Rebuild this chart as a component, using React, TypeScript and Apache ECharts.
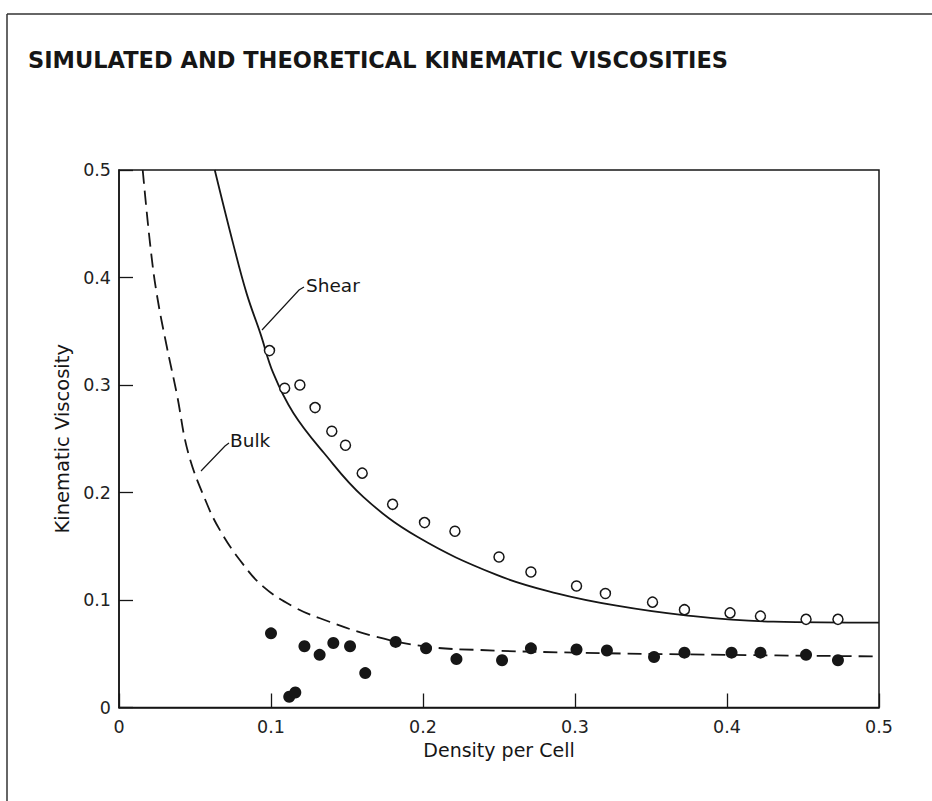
import React, { useEffect, useRef } from "react";
import * as echarts from "echarts";

// ---- data ----
const TITLE = "SIMULATED AND THEORETICAL KINEMATIC VISCOSITIES";
const X_NAME = "Density per Cell";
const Y_NAME = "Kinematic Viscosity";

// simulated shear viscosity (open circles)
const shearSimDensity = [0.099, 0.109, 0.119, 0.129, 0.140, 0.149, 0.160, 0.180, 0.201, 0.221, 0.250, 0.271, 0.301, 0.320, 0.351, 0.372, 0.402, 0.422, 0.452, 0.473];
const shearSimVisc = [0.332, 0.297, 0.300, 0.279, 0.257, 0.244, 0.218, 0.189, 0.172, 0.164, 0.140, 0.126, 0.113, 0.106, 0.098, 0.091, 0.088, 0.085, 0.082, 0.082];

// simulated bulk viscosity (filled circles)
const bulkSimDensity = [0.100, 0.112, 0.116, 0.122, 0.132, 0.141, 0.152, 0.162, 0.182, 0.202, 0.222, 0.252, 0.271, 0.301, 0.321, 0.352, 0.372, 0.403, 0.422, 0.452, 0.473];
const bulkSimVisc = [0.069, 0.010, 0.014, 0.057, 0.049, 0.060, 0.057, 0.032, 0.061, 0.055, 0.045, 0.044, 0.055, 0.054, 0.053, 0.047, 0.051, 0.051, 0.051, 0.049, 0.044];

// theoretical shear curve (solid)
const shearTheoryDensity = [0.063, 0.075, 0.084, 0.093, 0.1015, 0.1147, 0.135, 0.1607, 0.196, 0.2485, 0.288, 0.3274, 0.3713, 0.4305, 0.5];
const shearTheoryVisc = [0.500, 0.432, 0.385, 0.348, 0.311, 0.274, 0.2365, 0.196, 0.159, 0.1233, 0.1062, 0.0947, 0.086, 0.0798, 0.0789];

// theoretical bulk curve (dashed)
const bulkTheoryDensity = [0.0156, 0.0204, 0.0248, 0.0314, 0.038, 0.0456, 0.0577, 0.0664, 0.0796, 0.0949, 0.1147, 0.1322, 0.1673, 0.2024, 0.2375, 0.30, 0.40, 0.50];
const bulkTheoryVisc = [0.500, 0.432, 0.385, 0.336, 0.292, 0.2365, 0.190, 0.165, 0.137, 0.1124, 0.0938, 0.083, 0.0665, 0.0566, 0.0535, 0.051, 0.049, 0.0475];

const AXIS_MIN = 0;
const AXIS_MAX = 0.5;
const AXIS_STEP = 0.1;

const zip = (xs: number[], ys: number[]) => xs.map((x, i) => [x, ys[i]]);

const INK = "#161616";
const FONT = "DejaVu Sans";

export default function App() {
  const ref = useRef<HTMLDivElement>(null);

  useEffect(() => {
    if (!ref.current) return;
    const chart = echarts.init(ref.current, undefined, { renderer: "svg" });

    const axisCommon = {
      type: "value" as const,
      min: AXIS_MIN,
      max: AXIS_MAX,
      interval: AXIS_STEP,
      axisLine: { show: true, lineStyle: { color: INK, width: 1.5 } },
      axisTick: { show: true, inside: true, length: 14, lineStyle: { color: INK, width: 1.3 } },
      splitLine: { show: false },
      nameLocation: "middle" as const,
    };

    chart.setOption({
      animation: false,
      backgroundColor: "#ffffff",
      grid: {
        left: 119,
        right: 53,
        top: 170,
        bottom: 93.5,
        show: true,
        borderColor: INK,
        borderWidth: 1.5,
        backgroundColor: "transparent",
      },
      xAxis: {
        ...axisCommon,
        name: X_NAME,
        nameGap: 30,
        nameTextStyle: { fontFamily: FONT, fontSize: 19, color: INK },
        axisLabel: { fontFamily: FONT, fontSize: 17.5, color: "#222", margin: 10 },
      },
      yAxis: {
        ...axisCommon,
        name: Y_NAME,
        nameGap: 44,
        nameTextStyle: { fontFamily: FONT, fontSize: 19.5, color: INK },
        axisLabel: { fontFamily: FONT, fontSize: 17.5, color: "#222", margin: 8 },
      },
      graphic: [
        {
          type: "line",
          shape: { x1: 7, y1: 14, x2: 932, y2: 14 },
          style: { stroke: "#333", lineWidth: 1.5 },
        },
        {
          type: "line",
          shape: { x1: 7, y1: 14, x2: 7, y2: 801 },
          style: { stroke: "#333", lineWidth: 1.5 },
        },
        {
          type: "text",
          left: 28,
          top: 48,
          style: {
            text: TITLE,
            fontFamily: FONT,
            fontWeight: "bold",
            fontSize: 22.5,
            fill: INK,
          },
        },
        {
          type: "text",
          x: 306,
          y: 285,
          style: {
            text: "Shear",
            fontFamily: FONT,
            fontSize: 18.5,
            fill: INK,
            verticalAlign: "middle",
            align: "left",
          },
        },
        {
          type: "polyline",
          shape: { points: [[304, 287], [299, 290], [262, 330]] },
          style: { stroke: INK, lineWidth: 1.2, fill: "none" },
        },
        {
          type: "text",
          x: 230,
          y: 440,
          style: {
            text: "Bulk",
            fontFamily: FONT,
            fontSize: 18.5,
            fill: INK,
            verticalAlign: "middle",
            align: "left",
          },
        },
        {
          type: "polyline",
          shape: { points: [[229, 443], [225, 446], [201, 471]] },
          style: { stroke: INK, lineWidth: 1.2, fill: "none" },
        },
      ],
      series: [
        {
          type: "line",
          name: "Shear theory",
          data: zip(shearTheoryDensity, shearTheoryVisc),
          smooth: 0.4,
          showSymbol: false,
          symbol: "none",
          lineStyle: { color: INK, width: 1.8 },
          clip: true,
          z: 2,
        },
        {
          type: "line",
          name: "Bulk theory",
          data: zip(bulkTheoryDensity, bulkTheoryVisc),
          smooth: 0.4,
          showSymbol: false,
          symbol: "none",
          lineStyle: { color: INK, width: 1.8, type: [14, 7] },
          clip: true,
          z: 2,
        },
        {
          type: "scatter",
          name: "Shear simulated",
          data: zip(shearSimDensity, shearSimVisc),
          symbol: "circle",
          symbolSize: 10,
          itemStyle: { color: "#ffffff", borderColor: INK, borderWidth: 1.5, opacity: 1 },
          z: 3,
        },
        {
          type: "scatter",
          name: "Bulk simulated",
          data: zip(bulkSimDensity, bulkSimVisc),
          symbol: "circle",
          symbolSize: 12,
          itemStyle: { color: INK, opacity: 1 },
          z: 3,
        },
      ],
    });

    return () => chart.dispose();
  }, []);

  return (
    <div
      ref={ref}
      style={{ position: "absolute", left: 0, top: 0, width: 932, height: 801, background: "#fff" }}
    />
  );
}
